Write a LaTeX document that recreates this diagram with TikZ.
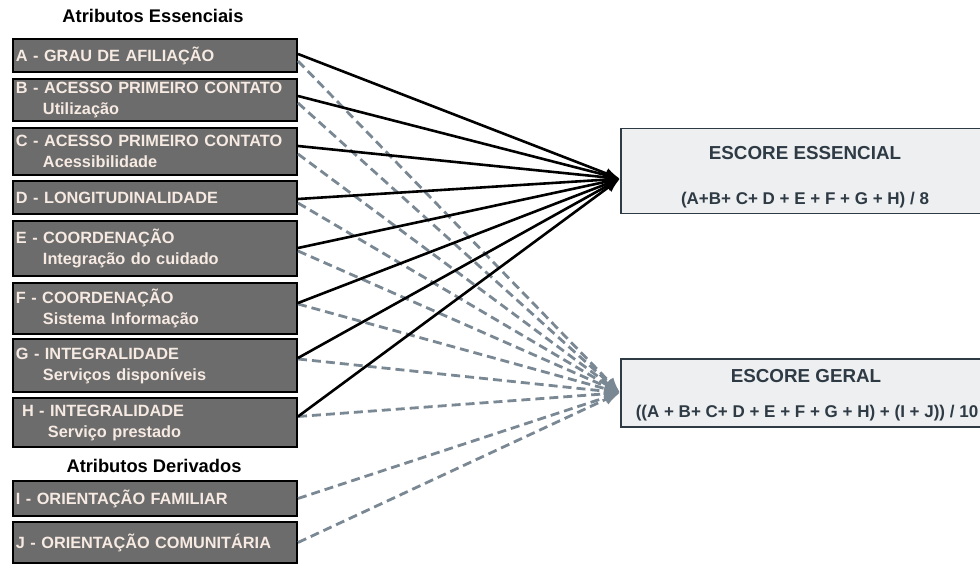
\documentclass[tikz,border=0pt]{standalone}
\usepackage{fontspec}
\setmainfont{Liberation Sans}
\usetikzlibrary{arrows.meta,positioning,calc}
\definecolor{boxgray}{RGB}{108,108,108}
\definecolor{boxtext}{RGB}{246,234,226}
\definecolor{scorefill}{RGB}{237,239,241}
\definecolor{scoretext}{RGB}{46,58,68}
\definecolor{dashgray}{RGB}{122,136,148}

\begin{document}
\begin{tikzpicture}[x=1pt, y=-1pt, >=Latex,
    attrbox/.style={draw=black, line width=2pt, fill=boxgray, text=boxtext,
      anchor=north west, minimum width=284pt, text width=278pt, align=left,
      inner xsep=3pt, inner ysep=0pt, font=\bfseries\fontsize{16.3}{21}\selectfont},
    grouptitle/.style={font=\bfseries\fontsize{18.3}{22}\selectfont},
    scorebox/.style={draw=scoretext, line width=1.5pt, fill=scorefill,
      anchor=north west, minimum width=380pt},
    scoretitle/.style={anchor=base, text=scoretext, font=\bfseries\fontsize{18.8}{22}\selectfont},
    scoreformula/.style={anchor=base, text=scoretext, font=\bfseries\fontsize{17}{20}\selectfont},
    essline/.style={->, line width=2.6pt, black},
    geralline/.style={->, line width=2.8pt, dashgray, dash pattern=on 9pt off 5pt}]
  \useasboundingbox (0,0) rectangle (980,564);

  % atributos essenciais
  \node[grouptitle] (esshead) at (153,16) {Atributos Essenciais};
  \node[attrbox, minimum height=33pt] (a) at (12,38) {A - GRAU DE AFILIAÇÃO};
  \node[attrbox, minimum height=42pt] (b) at (12,78) {B - ACESSO PRIMEIRO CONTATO\\\hspace*{27pt}Utilização};
  \node[attrbox, minimum height=47pt] (c) at (12,127) {C - ACESSO PRIMEIRO CONTATO\\\hspace*{27pt}Acessibilidade};
  \node[attrbox, minimum height=33pt] (d) at (12,180) {D - LONGITUDINALIDADE};
  \node[attrbox, minimum height=55pt] (e) at (12,220) {E - COORDENAÇÃO\\\hspace*{27pt}Integração do cuidado};
  \node[attrbox, minimum height=51pt] (f) at (12,282) {F - COORDENAÇÃO\\\hspace*{27pt}Sistema Informação};
  \node[attrbox, minimum height=53pt] (g) at (12,338) {G - INTEGRALIDADE\\\hspace*{27pt}Serviços disponíveis};
  \node[attrbox, minimum height=49pt] (h) at (12,397) {\hspace*{6pt}H - INTEGRALIDADE\\\hspace*{32pt}Serviço prestado};

  % atributos derivados
  \node[grouptitle] (derhead) at (154,466) {Atributos Derivados};
  \node[attrbox, minimum height=35pt] (i) at (12,480) {I - ORIENTAÇÃO FAMILIAR};
  \node[attrbox, minimum height=41pt] (j) at (12,521) {J - ORIENTAÇÃO COMUNITÁRIA};

  % escores
  \node[scorebox, minimum height=85pt] (ess) at (620,128) {};
  \node[scoretitle] (esstitle) at (805,160) {ESCORE ESSENCIAL};
  \node[scoreformula] (essformula) at (805,205) {(A+B+ C+ D + E + F + G + H) / 8};
  \node[scorebox, minimum height=68pt] (geral) at (620,358) {};
  \node[scoretitle] (geraltitle) at (806,382) {ESCORE GERAL};
  \node[scoreformula] (geralformula) at (807,417) {((A + B+ C+ D + E + F + G + H) + (I + J)) / 10};

  % ligacoes
  \foreach \n/\d in {a/-5.5,b/-3,c/-2.5,d/-5.5,e/-2.5,f/4.5,g/6.5,h/6,i/0,j/0}
    \draw[geralline] ([yshift=\d pt]\n.east) -- (geral.west);
  \foreach \n/\s in {a/1.5,b/4,c/5.5,d/-1.5,e/0.5,f/5.5,g/7.5,h/6}
    \draw[essline] ([yshift=\s pt]\n.east) -- ([yshift=-7.5pt]ess.west);
\end{tikzpicture}
\end{document}
